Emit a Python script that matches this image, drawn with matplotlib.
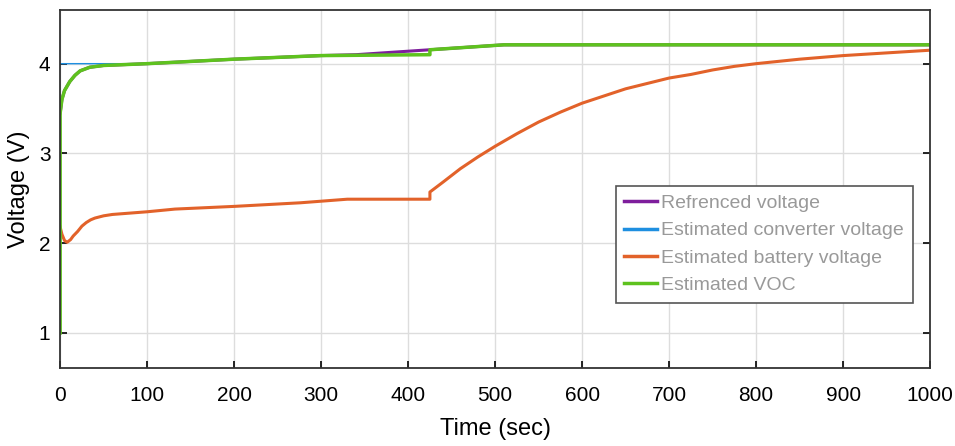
import matplotlib
matplotlib.use('Agg')
import matplotlib.pyplot as plt

plt.rcParams['font.family'] = ['Liberation Sans Narrow', 'Liberation Sans', 'DejaVu Sans']

# Estimated VOC (green)
t_voc = [0, 0, 2, 5, 11, 17, 23, 34, 50, 100, 200, 300, 425, 425, 510, 1000]
voc = [1.0, 3.45, 3.6, 3.7, 3.8, 3.87, 3.92, 3.96, 3.98, 4.0, 4.05, 4.09, 4.10, 4.155, 4.21, 4.21]

# Referenced voltage (purple), mostly under the VOC line
t_ref = [0, 2, 5, 11, 17, 23, 34, 50, 100, 200, 300, 340, 425, 425, 510, 1000]
ref = [3.45, 3.6, 3.7, 3.8, 3.87, 3.92, 3.96, 3.98, 4.0, 4.05, 4.09, 4.10, 4.155,
       4.155, 4.21, 4.21]

# Estimated converter voltage (blue)
t_conv = [0, 40, 100, 200, 300, 425, 425, 510, 1000]
conv = [4.0, 4.0, 4.0, 4.05, 4.09, 4.10, 4.155, 4.21, 4.21]

# Estimated battery voltage (orange)
t_bat = [0, 2, 5, 8, 12, 15, 20, 25, 30, 35, 40, 50, 60, 80, 100, 132, 200, 276, 330, 425,
         425, 440, 460, 480, 500, 525, 550, 575, 600, 625, 650, 675, 700, 725, 750, 775,
         800, 850, 900, 950, 1000]
bat = [2.18, 2.1, 2.03, 2.01, 2.04, 2.08, 2.13, 2.19, 2.23, 2.26, 2.28, 2.305, 2.32, 2.335,
       2.35, 2.38, 2.41, 2.45, 2.49, 2.49,
       2.57, 2.68, 2.83, 2.96, 3.08, 3.22, 3.35, 3.46, 3.56, 3.64, 3.72, 3.78, 3.84, 3.88,
       3.93, 3.97, 4.0, 4.05, 4.09, 4.12, 4.15]

XTICKS = list(range(0, 1001, 100))
YTICKS = [1, 2, 3, 4]

C_REF = '#7E1E9C'
C_CONV = '#1E8FE0'
C_BAT = '#E2622A'
C_VOC = '#5EC21E'

fig = plt.figure(figsize=(9.55, 4.46), dpi=100)
ax = fig.add_axes([0.063, 0.175, 0.911, 0.803])

ax.plot(t_ref, ref, color=C_REF, lw=2.2, label='Refrenced voltage')
ax.plot(t_conv, conv, color=C_CONV, lw=1.0, label='Estimated converter voltage')
ax.plot(t_bat, bat, color=C_BAT, lw=2.2, label='Estimated battery voltage')
ax.plot(t_voc, voc, color=C_VOC, lw=2.5, label='Estimated VOC')

ax.set_xlim(0, 1000)
ax.set_ylim(0.61, 4.6)
ax.set_xticks(XTICKS)
ax.set_yticks(YTICKS)
ax.tick_params(direction='in', length=5, width=1.2, labelsize=15,
               top=False, right=True)
ax.tick_params(axis='x', pad=13)
ax.tick_params(axis='y', pad=7)
ax.grid(True, color='#dddddd', lw=1)
for s in ax.spines.values():
    s.set_color('#333333')
    s.set_linewidth(1.3)

ax.set_xlabel('Time (sec)', fontsize=17, labelpad=9)
ax.set_ylabel('Voltage (V)', fontsize=17, labelpad=6)

leg = ax.legend(loc='lower right', bbox_to_anchor=(0.98, 0.182), borderaxespad=0,
                fontsize=14, handlelength=1.7, handletextpad=0.2, labelspacing=0.5,
                borderpad=0.45, fancybox=False, framealpha=1)
leg.get_frame().set_edgecolor('#555555')
leg.get_frame().set_linewidth(1.2)
for line in leg.get_lines():
    line.set_linewidth(2.5)
for txt in leg.get_texts():
    txt.set_color('#999999')

fig.savefig('out.png', dpi=100)
